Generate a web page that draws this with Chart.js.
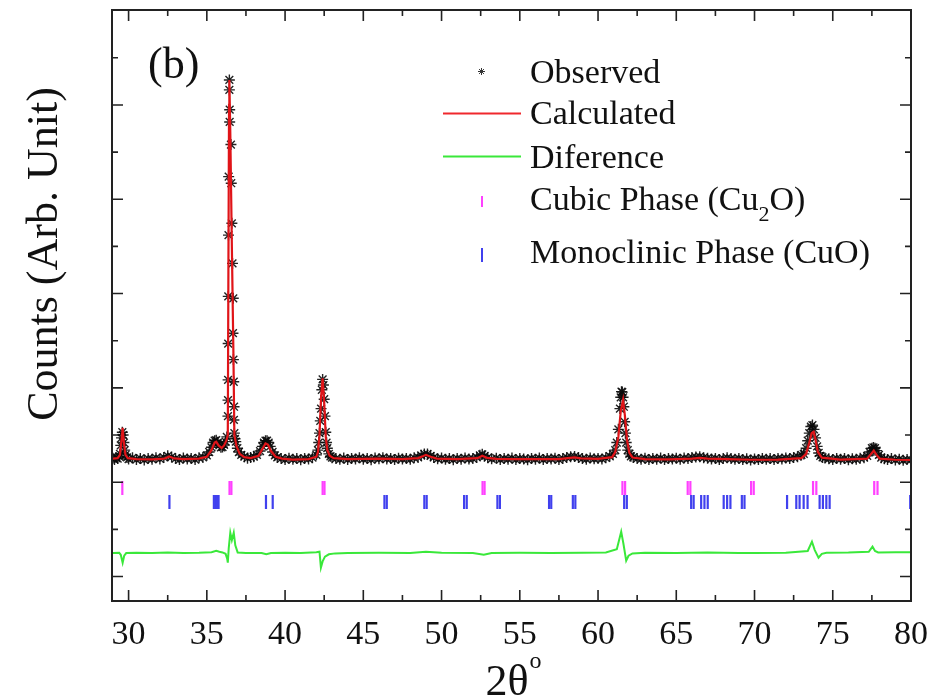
<!DOCTYPE html>
<html><head><meta charset="utf-8">
<script src="https://cdn.jsdelivr.net/npm/chart.js@4.4.1/dist/chart.umd.min.js"></script>
<style>html,body{margin:0;padding:0;background:#fff;}</style>
</head><body>
<canvas id="c" width="943" height="700"></canvas>
<script>
// ---------------- DATA ----------------
const xTickLabels = [30, 35, 40, 45, 50, 55, 60, 65, 70, 75, 80];
const xMinorTicks = [32.5, 37.5, 42.5, 47.5, 52.5, 57.5, 62.5, 67.5, 72.5, 77.5];
const yMajorTicks = [0, 1000, 2000, 3000, 4000, 5000];
const yMinorTicks = [500, 1500, 2500, 3500, 4500, 5500];

// Observed intensity [2theta, counts]
const observed = [
[29.0,1255],[29.1,1240],[29.2,1262],[29.3,1250],[29.4,1270],[29.45,1300],[29.5,1390],[29.55,1470],[29.6,1530],[29.65,1500],[29.7,1420],[29.75,1340],[29.8,1290],[29.9,1262],
[30.0,1245],[30.25,1258],[30.5,1240],[30.75,1252],[31.0,1236],[31.25,1250],[31.5,1244],[31.75,1258],[32.0,1246],[32.25,1262],[32.5,1280],[32.75,1268],[33.0,1250],[33.25,1240],[33.5,1256],[33.75,1246],[34.0,1252],[34.25,1240],[34.5,1258],[34.75,1262],
[35.0,1285],[35.15,1320],[35.3,1370],[35.4,1420],[35.5,1440],[35.6,1445],[35.7,1420],[35.8,1390],[35.9,1370],[36.0,1372],[36.1,1395],[36.2,1430],[36.28,1480],
[36.35,1700],[36.355,1870],[36.36,2085],[36.365,2470],[36.37,2970],[36.385,3620],[36.395,4240],[36.44,5265],[36.44,5160],[36.46,4950],[36.46,4820],[36.54,4580],[36.56,4170],[36.60,3745],[36.64,3320],[36.67,2580],[36.69,2950],[36.70,2300],[36.72,2065],[36.73,1660],[36.74,1800],[36.76,1520],[36.8,1460],
[36.85,1430],[36.95,1360],[37.05,1320],[37.2,1290],[37.4,1270],[37.6,1255],[37.8,1262],[38.0,1270],[38.2,1290],[38.4,1330],[38.55,1380],[38.65,1420],[38.75,1440],[38.85,1440],[38.95,1420],[39.05,1380],[39.2,1320],[39.35,1285],[39.5,1262],[39.75,1250],
[40.0,1240],[40.25,1255],[40.5,1242],[40.75,1250],[41.0,1238],[41.25,1252],[41.5,1246],[41.75,1260],[42.0,1290],[42.1,1340],[42.15,1420],[42.2,1520],[42.25,1650],[42.3,1780],[42.35,1980],[42.4,2090],[42.45,2030],[42.5,1880],[42.55,1700],[42.6,1530],[42.65,1420],[42.7,1360],[42.8,1300],[42.9,1275],[43.0,1260],[43.25,1250],
[43.5,1242],[43.75,1256],[44.0,1240],[44.25,1252],[44.5,1246],[44.75,1258],[45.0,1244],[45.25,1250],[45.5,1238],[45.75,1256],[46.0,1248],[46.25,1260],[46.5,1246],[46.75,1252],[47.0,1240],[47.25,1255],[47.5,1246],[47.75,1250],[48.0,1242],[48.25,1258],[48.5,1262],[48.7,1285],[48.9,1300],[49.1,1300],[49.3,1280],[49.5,1262],[49.75,1248],
[50.0,1256],[50.25,1242],[50.5,1250],[50.75,1238],[51.0,1252],[51.25,1244],[51.5,1256],[51.75,1246],[52.0,1250],[52.25,1262],[52.45,1285],[52.6,1295],[52.75,1280],[52.95,1260],[53.2,1248],[53.5,1255],[53.75,1240],[54.0,1250],[54.25,1244],[54.5,1256],[54.75,1240],
[55.0,1250],[55.25,1245],[55.5,1238],[55.75,1252],[56.0,1244],[56.25,1256],[56.5,1240],[56.75,1250],[57.0,1246],[57.25,1254],[57.5,1240],[57.75,1252],[58.0,1262],[58.25,1270],[58.5,1272],[58.75,1262],[59.0,1250],[59.25,1244],[59.5,1256],[59.75,1248],
[60.0,1252],[60.25,1246],[60.5,1258],[60.75,1275],[60.95,1300],[61.1,1340],[61.2,1420],[61.3,1560],[61.4,1780],[61.45,1900],[61.5,1960],[61.55,1955],[61.6,1900],[61.65,1800],[61.7,1640],[61.75,1520],[61.8,1420],[61.9,1340],[62.0,1300],[62.1,1275],[62.25,1262],[62.5,1250],[62.75,1244],
[63.0,1254],[63.25,1240],[63.5,1250],[63.75,1244],[64.0,1256],[64.25,1240],[64.5,1250],[64.75,1246],[65.0,1254],[65.25,1242],[65.5,1256],[65.75,1250],[66.0,1262],[66.25,1266],[66.5,1270],[66.75,1260],[67.0,1254],[67.25,1246],[67.5,1252],[67.75,1240],[68.0,1250],[68.25,1258],[68.5,1250],[68.75,1244],[69.0,1252],[69.25,1240],[69.5,1248],[69.75,1236],
[70.0,1246],[70.25,1240],[70.5,1252],[70.75,1242],[71.0,1250],[71.25,1240],[71.5,1252],[71.75,1246],[72.0,1256],[72.25,1250],[72.5,1262],[72.75,1270],[73.0,1290],[73.15,1300],[73.3,1360],[73.4,1440],[73.5,1520],[73.6,1590],[73.7,1605],[73.8,1560],[73.9,1470],[74.0,1380],[74.1,1310],[74.2,1280],[74.35,1262],[74.5,1256],[74.75,1248],
[75.0,1240],[75.25,1252],[75.5,1244],[75.75,1250],[76.0,1238],[76.25,1248],[76.5,1242],[76.75,1254],[77.0,1260],[77.2,1280],[77.35,1320],[77.5,1360],[77.6,1368],[77.7,1360],[77.8,1335],[77.95,1290],[78.1,1260],[78.3,1248],[78.5,1240],[78.75,1250],[79.0,1236],[79.25,1244],[79.5,1232],[79.75,1240],[80.0,1236]
];

// Calculated profile [2theta, counts]
const calculated = [
[29.0,1250],[29.3,1255],[29.45,1290],[29.55,1450],[29.62,1575],[29.7,1420],[29.8,1290],[29.95,1255],[30.5,1245],[31.5,1242],[32.3,1250],[32.6,1272],[32.9,1252],[33.5,1245],[34.5,1250],
[35.0,1270],[35.3,1340],[35.5,1420],[35.6,1430],[35.75,1390],[35.95,1362],[36.1,1390],[36.25,1440],[36.34,1500],[36.38,3300],[36.42,5000],[36.44,5265],[36.5,4700],[36.6,3500],[36.7,2350],[36.76,1500],[36.9,1380],[37.1,1300],[37.4,1265],[37.8,1255],
[38.3,1280],[38.55,1350],[38.75,1412],[38.9,1400],[39.1,1330],[39.4,1270],[39.8,1250],[40.5,1240],[41.5,1245],[42.0,1270],[42.1,1320],[42.2,1500],[42.3,1900],[42.4,2102],[42.5,1850],[42.6,1480],[42.7,1340],[42.85,1280],[43.1,1255],
[44.0,1245],[46.0,1250],[47.5,1245],[48.5,1255],[48.8,1275],[49.0,1290],[49.3,1270],[49.7,1250],[51.0,1245],[52.3,1255],[52.6,1280],[52.9,1258],[53.5,1248],[55.0,1245],[57.5,1245],[58.2,1258],[58.5,1262],[58.9,1252],[60.0,1248],
[60.9,1265],[61.1,1320],[61.3,1480],[61.45,1750],[61.6,1872],[61.72,1700],[61.85,1450],[62.0,1310],[62.2,1262],[63.0,1245],[64.5,1242],[66.0,1250],[66.5,1258],[67.0,1250],[68.3,1245],[69.8,1238],[71.5,1240],
[73.0,1255],[73.3,1300],[73.5,1420],[73.65,1520],[73.78,1535],[73.9,1450],[74.05,1320],[74.3,1260],[75.5,1240],[77.2,1250],[77.45,1300],[77.62,1334],[77.8,1290],[78.0,1250],[79.0,1238],[80.0,1235]
];

// Difference (obs - calc, shown with offset) [2theta, counts]
const difference = [
[29.0,250],[29.4,252],[29.5,230],[29.62,146],[29.72,220],[29.85,248],[30.5,252],[31.5,250],[32.5,254],[33.5,250],[34.5,252],[35.3,258],[35.6,272],[35.8,262],[36.0,255],[36.2,240],[36.3,190],[36.34,146],
[36.4,300],[36.5,464],[36.6,385],[36.72,464],[36.82,330],[36.97,255],[37.5,250],[38.5,248],[38.8,235],[39.1,248],[40.0,252],[41.0,250],[42.0,256],[42.2,262],[42.29,93],[42.4,160],[42.55,210],[42.8,235],[43.2,245],
[44.0,250],[46.0,252],[48.0,250],[49.0,263],[50.0,251],[52.0,250],[52.7,230],[53.2,250],[55.0,252],[57.0,250],[59.0,252],[60.5,255],[61.2,290],[61.48,475],[61.62,350],[61.8,168],[61.95,220],[62.2,245],
[63.0,252],[65.0,250],[67.0,254],[69.0,250],[70.0,248],[72.0,252],[73.4,270],[73.67,369],[73.85,280],[74.09,199],[74.3,240],[74.6,252],[76.0,254],[77.3,262],[77.54,316],[77.7,270],[77.9,255],[79.0,256],[80.0,257]
];

// Bragg reflection positions (2theta)
const cu2oReflections = [29.6, 36.45, 36.57, 42.4, 42.52, 52.62, 52.75, 61.56, 61.73, 65.73, 65.9, 69.78, 69.95, 73.74, 73.95, 77.65, 77.86];
const cuoReflections = [32.61, 35.45, 35.55, 35.65, 35.75, 38.78, 39.21, 46.35, 46.5, 48.9, 49.05, 51.44, 51.61, 53.57, 53.73, 56.87, 57.01, 58.39, 58.55, 61.67, 61.84, 65.95, 66.11, 66.59, 66.8, 67.01, 68.03, 68.25, 68.46, 69.19, 69.36, 72.08, 72.67, 72.88, 73.14, 73.39, 74.16, 74.37, 74.59, 74.8, 79.95];
const cu2oMarkerLevel = 938;
const cuoMarkerLevel = 790;

const legendLabels = ['Observed', 'Calculated', 'Diference', 'Cubic Phase (Cu', 'Monoclinic Phase (CuO)'];

// ---------------- CHART ----------------
const toPts = arr => arr.map(p => ({x: p[0], y: p[1]}));
const SERIF = '"Liberation Serif", "Times New Roman", serif';

const deco = {
  id: 'deco',
  afterDatasetsDraw(chart) {
    const {ctx, chartArea: a, scales: {x, y}} = chart;
    ctx.save();
    ctx.strokeStyle = '#222';
    ctx.lineWidth = 2;
    ctx.strokeRect(a.left, a.top, a.right - a.left, a.bottom - a.top);
    ctx.lineWidth = 1.6;
    ctx.beginPath();
    const tickX = (v, len) => {
      const px = x.getPixelForValue(v);
      ctx.moveTo(px, a.bottom); ctx.lineTo(px, a.bottom - len);
      ctx.moveTo(px, a.top); ctx.lineTo(px, a.top + len);
    };
    const tickY = (v, len) => {
      const py = y.getPixelForValue(v);
      ctx.moveTo(a.left, py); ctx.lineTo(a.left + len, py);
      ctx.moveTo(a.right, py); ctx.lineTo(a.right - len, py);
    };
    xTickLabels.forEach(v => tickX(v, 11));
    xMinorTicks.forEach(v => tickX(v, 6));
    yMajorTicks.forEach(v => tickY(v, 11));
    yMinorTicks.forEach(v => tickY(v, 6));
    ctx.stroke();
    ctx.restore();
  },
  afterDraw(chart) {
    const {ctx} = chart;
    ctx.save();
    ctx.fillStyle = '#111';
    // panel tag
    ctx.font = '44px ' + SERIF;
    ctx.textBaseline = 'alphabetic';
    ctx.textAlign = 'left';
    ctx.fillText('(b)', 148, 78);
    // y title
    ctx.save();
    ctx.translate(45, 254);
    ctx.rotate(-Math.PI / 2);
    ctx.font = '44px ' + SERIF;
    ctx.textAlign = 'center';
    ctx.textBaseline = 'middle';
    ctx.fillText('Counts (Arb. Unit)', 0, 0);
    ctx.restore();
    // x title 2θ°
    ctx.font = '44px ' + SERIF;
    ctx.textAlign = 'left';
    const w2 = ctx.measureText('2\u03B8').width;
    const x0 = 512 - (w2 + 10) / 2;
    ctx.fillText('2\u03B8', x0, 695);
    ctx.font = '24px ' + SERIF;
    ctx.fillText('o', x0 + w2 + 1, 668);
    // legend
    const lx = 530;
    ctx.font = '34px ' + SERIF;
    ctx.fillText(legendLabels[0], lx, 83);
    ctx.fillText(legendLabels[1], lx, 124);
    ctx.fillText(legendLabels[2], lx, 168);
    ctx.fillText(legendLabels[3], lx, 210);
    let wc = ctx.measureText(legendLabels[3]).width;
    ctx.font = '22px ' + SERIF;
    ctx.fillText('2', lx + wc, 221);
    const w2s = ctx.measureText('2').width;
    ctx.font = '34px ' + SERIF;
    ctx.fillText('O)', lx + wc + w2s, 210);
    ctx.fillText(legendLabels[4], lx, 263);
    // legend symbols
    ctx.strokeStyle = '#333'; ctx.lineWidth = 1;
    const sx = 481.5, sy = 71.5, r = 3.5;
    ctx.beginPath();
    ctx.moveTo(sx - r, sy); ctx.lineTo(sx + r, sy);
    ctx.moveTo(sx, sy - r); ctx.lineTo(sx, sy + r);
    ctx.moveTo(sx - r * 0.7, sy - r * 0.7); ctx.lineTo(sx + r * 0.7, sy + r * 0.7);
    ctx.moveTo(sx - r * 0.7, sy + r * 0.7); ctx.lineTo(sx + r * 0.7, sy - r * 0.7);
    ctx.stroke();
    ctx.lineWidth = 2;
    ctx.strokeStyle = '#f0282d';
    ctx.beginPath(); ctx.moveTo(443, 113.5); ctx.lineTo(521, 113.5); ctx.stroke();
    ctx.strokeStyle = '#3ae83a';
    ctx.beginPath(); ctx.moveTo(443, 156.5); ctx.lineTo(521, 156.5); ctx.stroke();
    ctx.strokeStyle = '#ff40ff';
    ctx.beginPath(); ctx.moveTo(482, 196); ctx.lineTo(482, 207); ctx.stroke();
    ctx.strokeStyle = '#4040ee';
    ctx.beginPath(); ctx.moveTo(482, 248); ctx.lineTo(482, 262); ctx.stroke();
    ctx.restore();
  }
};

new Chart(document.getElementById('c'), {
  type: 'scatter',
  data: {
    datasets: [
      { label: 'Calculated', data: toPts(calculated), showLine: true, borderColor: '#e01418', borderWidth: 2.2, pointRadius: 0, order: 0, tension: 0 },
      { label: 'Observed', data: toPts(observed), showLine: false, pointStyle: 'star', pointRadius: 5.5, borderColor: 'rgba(10,10,10,0.9)', backgroundColor: 'rgba(0,0,0,0)', pointBorderWidth: 1.4, order: 1 },
      { label: 'Diference', data: toPts(difference), showLine: true, borderColor: '#3ae83a', borderWidth: 2, pointRadius: 0, order: 2 },
      { label: 'Cubic Phase (Cu2O)', data: cu2oReflections.map(v => ({x: v, y: cu2oMarkerLevel})), showLine: false, pointStyle: 'line', rotation: 90, pointRadius: 7, borderColor: '#ff40ff', pointBorderWidth: 2.2, order: 3 },
      { label: 'Monoclinic Phase (CuO)', data: cuoReflections.map(v => ({x: v, y: cuoMarkerLevel})), showLine: false, pointStyle: 'line', rotation: 90, pointRadius: 7, borderColor: '#4040ee', pointBorderWidth: 2.2, order: 4 }
    ]
  },
  options: {
    responsive: false,
    animation: false,
    devicePixelRatio: 1,
    layout: { padding: { left: 0, right: 32, top: 10, bottom: 0 } },
    plugins: { legend: { display: false }, tooltip: { enabled: false } },
    scales: {
      x: {
        type: 'linear', min: 28.94, max: 80,
        grid: { display: false, drawTicks: false },
        border: { display: false },
        ticks: { color: '#111', font: { family: SERIF, size: 34 }, padding: 14, maxRotation: 0, autoSkip: false },
        afterBuildTicks: s => { s.ticks = xTickLabels.map(v => ({value: v})); },
        afterFit: s => { s.height = 99; }
      },
      y: {
        type: 'linear', min: -260, max: 6007,
        grid: { display: false, drawTicks: false },
        border: { display: false },
        ticks: { display: false },
        afterFit: s => { s.width = 112; }
      }
    }
  },
  plugins: [deco]
});
</script>
</body></html>
